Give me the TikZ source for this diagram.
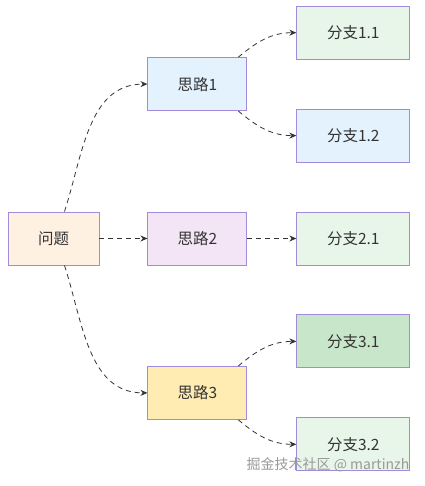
\documentclass[tikz,border=0pt]{standalone}
\usepackage{fontspec}
\newfontfamily\cjk{Noto Sans CJK SC}
\usetikzlibrary{positioning,arrows.meta}

\definecolor{edgecol}{HTML}{333333}
\definecolor{boxline}{HTML}{A08CDA}
\definecolor{qfill}{HTML}{FFF1E1}
\definecolor{blue1}{HTML}{E3F2FD}
\definecolor{purp2}{HTML}{F3E5F5}
\definecolor{gold3}{HTML}{FFECB3}
\definecolor{green0}{HTML}{E8F5E9}
\definecolor{green3}{HTML}{C8E6C9}

\begin{document}
\begin{tikzpicture}[x=1pt, y=1pt, node distance=49pt,
        box/.style={draw=boxline, line width=0.9pt, rectangle, minimum height=53pt, inner sep=0pt,
            font=\cjk\fontsize{15.5}{18}\selectfont, text=edgecol},
        qbox/.style={box, minimum width=91pt, fill=qfill},
        ideabox/.style={box, minimum width=99pt},
        branchbox/.style={box, minimum width=113pt, fill=green0},
        link/.style={draw=edgecol, line width=0.8pt, dash pattern=on 5pt off 4pt, -{Stealth[length=7pt, width=6pt]}},
        >=stealth
    ]
        \useasboundingbox (0,0) rectangle (424,-486);

        \node [qbox] (q) at (53.5,-238.5) {问题};
        \node [ideabox, fill=purp2, right=48pt of q] (s2) {思路2};
        \node [ideabox, fill=blue1, above=100.5pt of s2] (s1) {思路1};
        \node [ideabox, fill=gold3, below=100.5pt of s2] (s3) {思路3};

        \node [branchbox, right=49pt of s2] (b21) {分支2.1};
        \node [branchbox, fill=blue1, above=of b21] (b12) {分支1.2};
        \node [branchbox, above=of b12] (b11) {分支1.1};
        \node [branchbox, fill=green3, below=of b21] (b31) {分支3.1};
        \node [branchbox, below=of b31] (b32) {分支3.2};

        % watermark
        \node [font=\cjk\fontsize{14}{16}\selectfont, text=black!40] (wm) at (328,-465) {掘金技术社区 @ martinzh};

        \draw [link] ([xshift=11pt]q.north) to[out=72, in=180] (s1.west);
        \draw [link] (q.east) -- (s2.west);
        \draw [link] ([xshift=11pt]q.south) to[out=-72, in=180] (s3.west);

        \draw [link] ([xshift=-9pt]s1.north east) to[out=40, in=180] (b11.west);
        \draw [link] ([xshift=-9pt]s1.south east) to[out=-40, in=180] (b12.west);
        \draw [link] (s2.east) -- (b21.west);
        \draw [link] ([xshift=-9pt]s3.north east) to[out=40, in=180] (b31.west);
        \draw [link] ([xshift=-9pt]s3.south east) to[out=-40, in=180] (b32.west);
    \end{tikzpicture}
\end{document}
